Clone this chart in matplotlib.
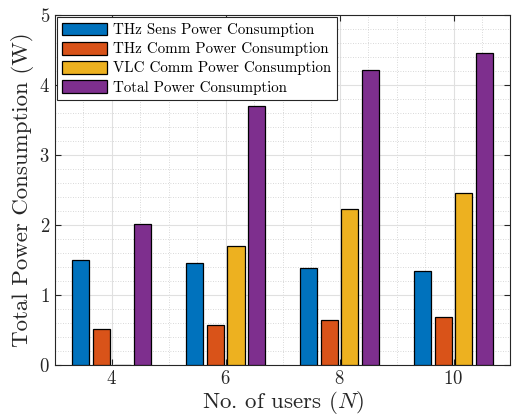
import numpy as np
import matplotlib
matplotlib.use("Agg")
import matplotlib.pyplot as plt
from matplotlib.ticker import MultipleLocator

plt.rcParams["font.family"] = "serif"
plt.rcParams["font.serif"] = ["cmr10"]
plt.rcParams["mathtext.fontset"] = "cm"
plt.rcParams["axes.formatter.use_mathtext"] = True

users = [4, 6, 8, 10]
thz_sens = [1.50, 1.46, 1.39, 1.34]
thz_comm = [0.51, 0.57, 0.64, 0.68]
vlc_comm = [0.00, 1.70, 2.23, 2.45]
total = [2.01, 3.70, 4.22, 4.45]

labels = ["THz Sens Power Consumption", "THz Comm Power Consumption",
          "VLC Comm Power Consumption", "Total Power Consumption"]
colors = ["#0072BD", "#D95319", "#EDB120", "#7E2F8E"]

fig = plt.figure(figsize=(5.12, 4.17), dpi=100)
ax = fig.add_axes([0.107, 0.125, 0.89, 0.839])

x = np.array(users, dtype=float)
offsets = [-0.545, -0.182, 0.182, 0.545]
width = 0.30
for vals, lab, col, off in zip([thz_sens, thz_comm, vlc_comm, total], labels, colors, offsets):
    ax.bar(x + off, vals, width, color=col, edgecolor="black", linewidth=0.9,
           label=lab, zorder=3)

ax.set_xlim(3, 11)
ax.set_ylim(0, 5)
ax.set_xticks(users)
ax.set_yticks([0, 1, 2, 3, 4, 5])
ax.xaxis.set_minor_locator(MultipleLocator(0.5))
ax.yaxis.set_minor_locator(MultipleLocator(0.2))

ax.grid(True, which="major", color="#e0e0e0", linewidth=0.8, zorder=0)
ax.grid(True, which="minor", color="#cccccc", linestyle=(0, (1, 2)), linewidth=0.6, zorder=0)
ax.set_axisbelow(True)

ax.tick_params(which="both", direction="in", top=True, right=True, color="#262626",
               labelcolor="#262626")
ax.tick_params(which="major", length=4, labelsize=13.5)
ax.tick_params(which="minor", length=0)
for s in ax.spines.values():
    s.set_color("#262626")
    s.set_linewidth(0.8)

ax.set_xlabel("No. of users ($N$)", fontsize=16.5, labelpad=1, color="#262626")
ax.set_ylabel("Total Power Consumption (W)", fontsize=16.5, labelpad=4, color="#262626")

leg = ax.legend(loc="upper left", fontsize=10.8, fancybox=False, framealpha=1,
                edgecolor="#262626", borderaxespad=0.15, handlelength=3.0,
                handleheight=0.95, labelspacing=0.3, borderpad=0.35, handletextpad=0.4)
leg.get_frame().set_linewidth(0.8)

fig.savefig("out.png", dpi=100)
